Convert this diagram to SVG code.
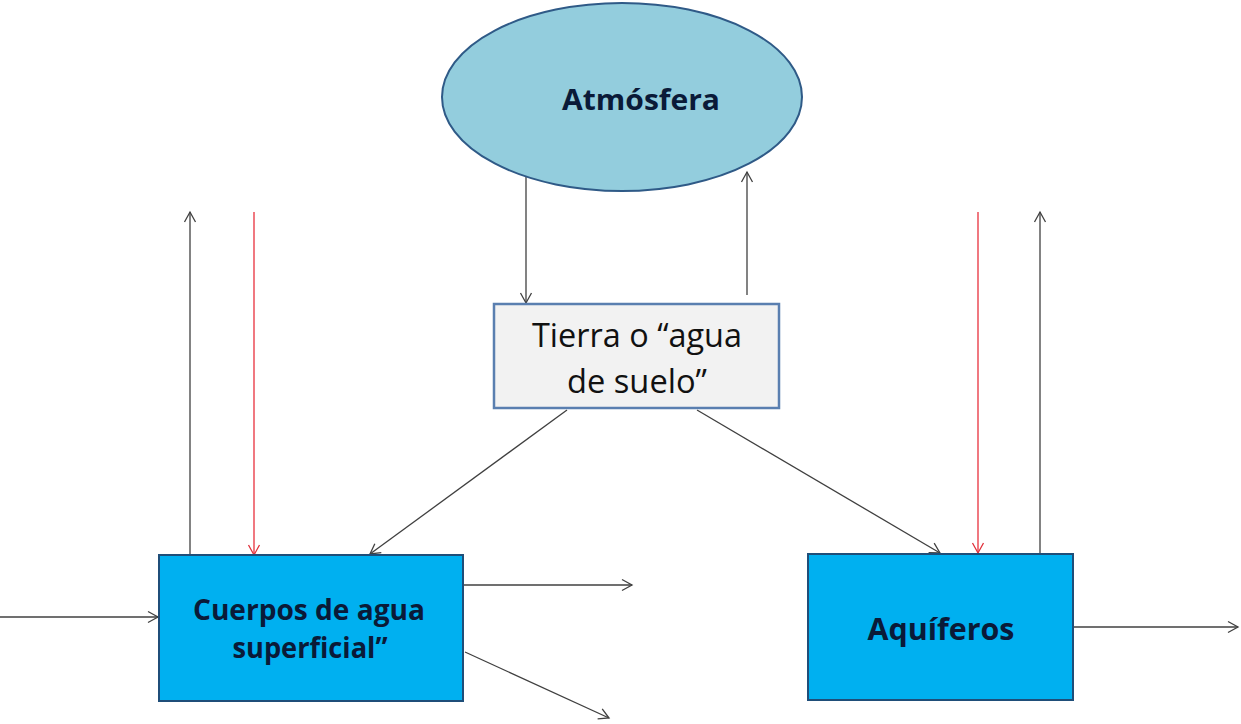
<svg xmlns="http://www.w3.org/2000/svg" width="1241" height="724" viewBox="0 0 1241 724">
<defs>
<marker id="ah" markerWidth="14" markerHeight="14" refX="12" refY="7" orient="auto" markerUnits="userSpaceOnUse">
<path d="M2,1.5 L12,7 L2,12.5" fill="none" stroke="#404040" stroke-width="1.3"/>
</marker>
<marker id="ahr" markerWidth="14" markerHeight="14" refX="12" refY="7" orient="auto" markerUnits="userSpaceOnUse">
<path d="M2,1.5 L12,7 L2,12.5" fill="none" stroke="#e0303a" stroke-width="1.3"/>
</marker>
<style>
.c{stroke:#404040;stroke-width:1.3;fill:none;marker-end:url(#ah)}
.r{stroke:#e8303c;stroke-width:1.3;fill:none;marker-end:url(#ahr)}
.box{fill:#00b0f0;stroke:#1f4e79;stroke-width:2}
.bt{font-family:"Open Sans","Liberation Sans",sans-serif;font-weight:bold;fill:#0a1a38;text-anchor:middle}
.nt{font-family:"Open Sans","Liberation Sans",sans-serif;fill:#111;text-anchor:middle}
</style>
</defs>
<rect width="1241" height="724" fill="#fff"/>
<g id="connectors">
<line class="c" x1="526" y1="172" x2="526" y2="303"/>
<line class="c" x1="747" y1="295" x2="747" y2="172"/>
<line class="c" x1="567" y1="410" x2="370" y2="554"/>
<line class="c" x1="697" y1="410" x2="940" y2="553"/>
<line class="c" x1="190" y1="555" x2="190" y2="212"/>
<line class="r" x1="254" y1="212" x2="254" y2="555"/>
<line class="c" x1="0" y1="617" x2="158" y2="617"/>
<line class="c" x1="463" y1="585" x2="632" y2="585"/>
<line class="c" x1="465" y1="652" x2="609" y2="718"/>
<line class="r" x1="978" y1="212" x2="978" y2="553"/>
<line class="c" x1="1040" y1="553" x2="1040" y2="212"/>
<line class="c" x1="1073" y1="627" x2="1238" y2="627"/>
</g>
<g id="atmosfera">
<ellipse cx="622" cy="97" rx="180" ry="94" fill="#93cddd" stroke="#2f5a87" stroke-width="2"/>
<text class="bt" x="641" y="110" font-size="28" textLength="158" lengthAdjust="spacingAndGlyphs">Atmósfera</text>
</g>
<g id="tierra">
<rect x="494" y="304" width="285" height="104" fill="#f2f2f2" stroke="#5a7fb0" stroke-width="2.5"/>
<text class="nt" x="637" y="347" font-size="33" textLength="210" lengthAdjust="spacingAndGlyphs">Tierra o “agua</text>
<text class="nt" x="637" y="393" font-size="33" textLength="140" lengthAdjust="spacingAndGlyphs">de suelo”</text>
</g>
<g id="cuerpos">
<rect class="box" x="159" y="555" width="304" height="146"/>
<text class="bt" x="309" y="620" font-size="28" textLength="232" lengthAdjust="spacingAndGlyphs">Cuerpos de agua</text>
<text class="bt" x="310" y="658" font-size="28" textLength="155" lengthAdjust="spacingAndGlyphs">superficial”</text>
</g>
<g id="aquiferos">
<rect class="box" x="808" y="554" width="265" height="146"/>
<text class="bt" x="941" y="640" font-size="30" textLength="147" lengthAdjust="spacingAndGlyphs">Aquíferos</text>
</g>
</svg>
